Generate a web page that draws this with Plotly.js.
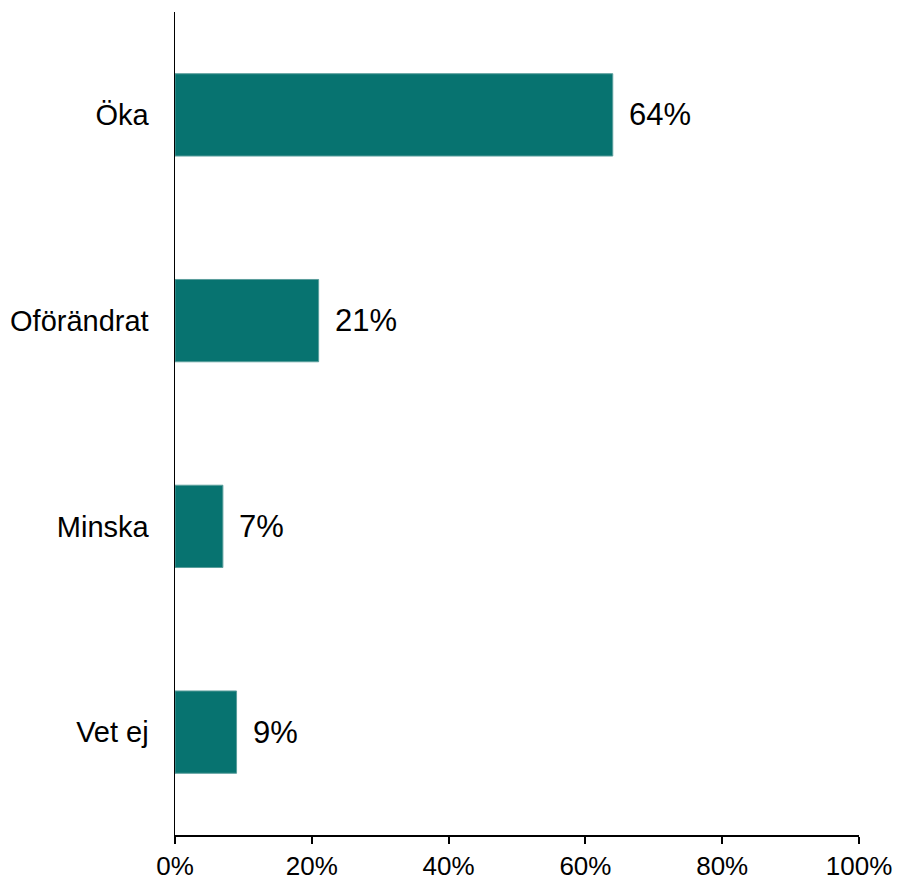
<!DOCTYPE html>
<html>
<head>
<meta charset="utf-8">
<script src="https://cdn.plot.ly/plotly-3.0.1.min.js"></script>
<style>html,body{margin:0;padding:0;background:#fff;}</style>
</head>
<body>
<div id="chart" style="width:900px;height:882px;"></div>
<script>
const categories = ["Öka", "Oförändrat", "Minska", "Vet ej"];
const values = [64, 21, 7, 9];
const valueLabels = ["64%", "21%", "7%", "9%"];
const tickValues = [0, 20, 40, 60, 80, 100];
const tickLabels = ["0%", "20%", "40%", "60%", "80%", "100%"];

const trace = {
  type: "bar",
  orientation: "h",
  y: categories,
  x: values,
  marker: {color: "#077370", line: {color: "#5a9e9c", width: 1}},
  hoverinfo: "none"
};

const annotations = categories.map((c, i) => ({
  x: values[i], y: c, xref: "x", yref: "y",
  text: valueLabels[i], showarrow: false,
  xanchor: "left", yanchor: "middle", xshift: 14,
  font: {family: "Liberation Sans, Arial, sans-serif", size: 31, color: "#000"}
}));

const layout = {
  width: 900, height: 882,
  margin: {l: 175, r: 41, t: 12, b: 47},
  paper_bgcolor: "#fff", plot_bgcolor: "#fff",
  showlegend: false,
  bargap: 0.6,
  font: {family: "Liberation Sans, Arial, sans-serif", color: "#000"},
  xaxis: {
    range: [0, 100], tickvals: tickValues, ticktext: tickLabels,
    showgrid: false, zeroline: false,
    showline: true, linecolor: "#000", linewidth: 2,
    ticks: "outside", ticklen: 7, tickwidth: 2, tickcolor: "#000",
    tickfont: {size: 26}, automargin: false, fixedrange: true
  },
  yaxis: {
    type: "category", autorange: "reversed", range: [3.5, -0.5],
    showgrid: false, zeroline: false,
    showline: true, linecolor: "#000", linewidth: 1.5,
    ticks: "", ticklabelstandoff: 19,
    tickfont: {size: 29}, automargin: false, fixedrange: true
  },
  annotations: annotations
};

Plotly.newPlot("chart", [trace], layout, {displayModeBar: false, staticPlot: true});
</script>
</body>
</html>
